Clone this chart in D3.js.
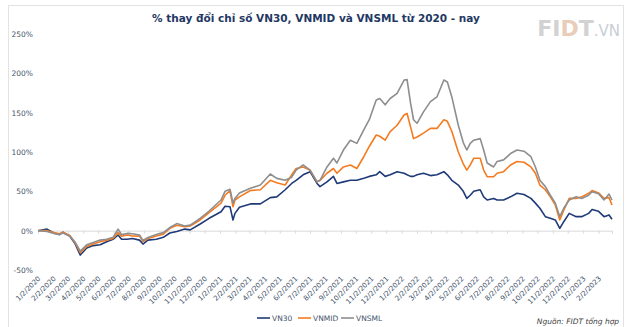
<!DOCTYPE html>
<html><head><meta charset="utf-8">
<script src="https://cdn.jsdelivr.net/npm/d3@7"></script>
<style>html,body{margin:0;padding:0;background:#fff;}svg{display:block;}</style>
</head><body>
<script>
const dates = ["2020-01-02","2020-01-20","2020-02-03","2020-02-14","2020-02-21","2020-03-06","2020-03-16","2020-03-27","2020-04-09","2020-04-22","2020-05-06","2020-05-19","2020-06-01","2020-06-11","2020-06-18","2020-06-29","2020-07-10","2020-07-24","2020-07-31","2020-08-10","2020-08-27","2020-09-10","2020-09-23","2020-10-07","2020-10-23","2020-11-03","2020-11-23","2020-12-11","2021-01-04","2021-01-12","2021-01-22","2021-01-28","2021-02-01","2021-02-10","2021-03-04","2021-03-24","2021-04-13","2021-04-26","2021-05-13","2021-05-26","2021-06-04","2021-06-18","2021-07-02","2021-07-16","2021-07-22","2021-08-05","2021-08-18","2021-08-25","2021-09-07","2021-09-21","2021-10-04","2021-10-18","2021-10-29","2021-11-12","2021-11-19","2021-11-30","2021-12-10","2021-12-24","2022-01-07","2022-01-13","2022-01-20","2022-01-26","2022-02-02","2022-02-15","2022-03-01","2022-03-14","2022-03-28","2022-04-04","2022-04-13","2022-04-26","2022-05-06","2022-05-13","2022-05-20","2022-05-27","2022-06-09","2022-06-16","2022-06-23","2022-07-06","2022-07-13","2022-07-26","2022-08-09","2022-08-22","2022-09-05","2022-09-19","2022-09-28","2022-10-07","2022-10-18","2022-10-28","2022-11-07","2022-11-16","2022-11-24","2022-12-05","2022-12-19","2022-12-30","2023-01-13","2023-01-20","2023-02-02","2023-02-13","2023-02-23","2023-03-01"];
const vn30 = [0,2,-3,-5,-2,-7,-16,-31,-22,-19,-18,-14,-11,-5.5,-11,-11,-10,-12,-17,-12,-11,-8.5,-3,-1,2,1,8.5,15.7,24,31,30.5,13.6,22,29.7,34,34,42,43,52,60,64,71,75,60,56,62,69,60,62,64,64,66.5,69,71,75,69,71,75,73,71,69,69,71,73,70,71,75,71,64,58,50,41,45,50,52,43,39,41,39,39,43,47.5,46,41,35,28.5,17.8,15.7,13.6,3,11.4,22,17.8,17.8,22,27,24.6,17.8,20,14.5];
const vnmid = [0,0,-2.5,-4,-2,-6,-15,-28,-20,-17,-14,-12,-10,-2.5,-7,-5.5,-6.7,-7,-14,-10,-6.7,-4.6,3,7,5,6,13.6,23,35,45,51,30.5,39,43,51,52,64,61,58,71,79,81,77,62,64,73,79,73,81,83.5,79,94,107,121.6,120,115,126,134,147,149,132,117,119,124,130,130,141,139,126,100,85,77,83.5,92,92,77,68.6,68.6,73,75,83.5,88,87,81,73,58,52,43,32.7,13.6,26,41,41,43,47.5,51,48,41,42,32.7];
const vnsml = [0,-1,-3.5,-5,-3,-7,-14,-26,-18,-15,-12,-11,-8.5,2,-5,-3.5,-4,-5.5,-12.5,-8.7,-5,-2.5,4,9,6,7,15.7,25,39,50,52.6,35,41,48,54,58,72,66.5,64,68,77,83.5,77,62,64,81,92,86,102.5,115,111,128,141,166,168,160,168,174.6,191.5,192,162,141,136.5,151,164,170,191.5,189,170,134,112,102.5,111,115,117,102.5,86,81,88,90,98,102.5,101,94,81,64,56,45,35,17.8,28.5,39,43,41,45,49.6,47,39,46.6,39];
const seriesNames = ["VN30","VNMID","VNSML"];
const seriesColors = ["#1f3a78","#f47b20","#8e8e8e"];
const yTicks = [-50,0,50,100,150,200,250];
const title = "% thay đổi chỉ số VN30, VNMID và VNSML từ 2020 - nay";
const source = "Nguồn: FIDT tổng hợp";

const W = 630, H = 327;
const svg = d3.select("body").append("svg").attr("width", W).attr("height", H);
const font = "'DejaVu Sans', Verdana, sans-serif";

svg.append("rect").attr("x", 8.5).attr("y", 5.5).attr("width", 615).attr("height", 330)
  .attr("fill", "#fff").attr("stroke", "#e3e3e3");

const parse = d3.timeParse("%Y-%m-%d");
const D = dates.map(parse);
const x = d3.scaleTime().domain([parse("2020-01-02"), parse("2023-03-01")]).range([38, 612]);
const y = d3.scaleLinear().domain([-50, 250]).range([270, 34]);

// title
svg.append("text").attr("x", 316).attr("y", 22).attr("text-anchor", "middle")
  .attr("font-family", font).attr("font-weight", "bold").attr("font-size", 10.5)
  .attr("fill", "#1f3864").text(title);

// logo
const logo = svg.append("text").attr("x", 620).attr("y", 36).attr("text-anchor", "end")
  .attr("font-family", font).attr("font-weight", "bold");
logo.append("tspan").attr("font-size", 22).attr("fill", "#d2d2d2").text("FI");
logo.append("tspan").attr("font-size", 22).attr("fill", "#e8cdbb").text("D");
logo.append("tspan").attr("font-size", 22).attr("fill", "#d2d2d2").text("T");
logo.append("tspan").attr("font-size", 15).attr("font-weight", "normal").attr("fill", "#c9ced6").text(".VN");

// y axis
const ya = svg.append("g").attr("transform", "translate(36,0)")
  .call(d3.axisLeft(y).tickValues(yTicks).tickFormat(d => d + "%").tickSize(0).tickPadding(3));
ya.select(".domain").remove();
ya.selectAll("text").attr("font-family", font).attr("font-size", 7.5).attr("fill", "#44546a");

// x axis line at 0
const tickDates = d3.timeMonth.range(new Date(2020, 0, 1), new Date(2023, 2, 1)).map(d => new Date(d.getFullYear(), d.getMonth(), 2));
const xa = svg.append("g").attr("transform", `translate(0,${y(0)})`)
  .call(d3.axisBottom(x).tickValues(tickDates).tickSize(3).tickFormat(""));
xa.select(".domain").attr("stroke", "#d9d9d9");
xa.selectAll(".tick line").attr("stroke", "#d9d9d9");

// x labels at bottom, rotated
const fmt = d3.timeFormat("%-m/%-d/%Y");
svg.append("g").selectAll("text").data(tickDates).join("text")
  .attr("transform", d => `translate(${x(d) + 3},${279}) rotate(-45)`)
  .attr("text-anchor", "end").attr("font-family", font).attr("font-size", 7)
  .attr("fill", "#44546a").text(d => fmt(d));

// lines
const allSeries = [vn30, vnmid, vnsml];
const line = d3.line().x((d, i) => x(D[i])).y(d => y(d));
allSeries.forEach((s, k) => {
  svg.append("path").datum(s).attr("d", line).attr("fill", "none")
    .attr("stroke", seriesColors[k]).attr("stroke-width", 1.6).attr("stroke-linejoin", "round");
});

// legend
const legX = [257, 298, 341];
seriesNames.forEach((n, k) => {
  svg.append("line").attr("x1", legX[k]).attr("x2", legX[k] + 13).attr("y1", 318).attr("y2", 318)
    .attr("stroke", seriesColors[k]).attr("stroke-width", 1.6);
  svg.append("text").attr("x", legX[k] + 15).attr("y", 320.5).attr("font-family", font)
    .attr("font-size", 7.5).attr("fill", "#44546a").text(n);
});

// source
svg.append("text").attr("x", 619).attr("y", 324).attr("text-anchor", "end")
  .attr("font-family", font).attr("font-style", "italic").attr("font-size", 7.5)
  .attr("fill", "#404040").text(source);
</script>
</body></html>
